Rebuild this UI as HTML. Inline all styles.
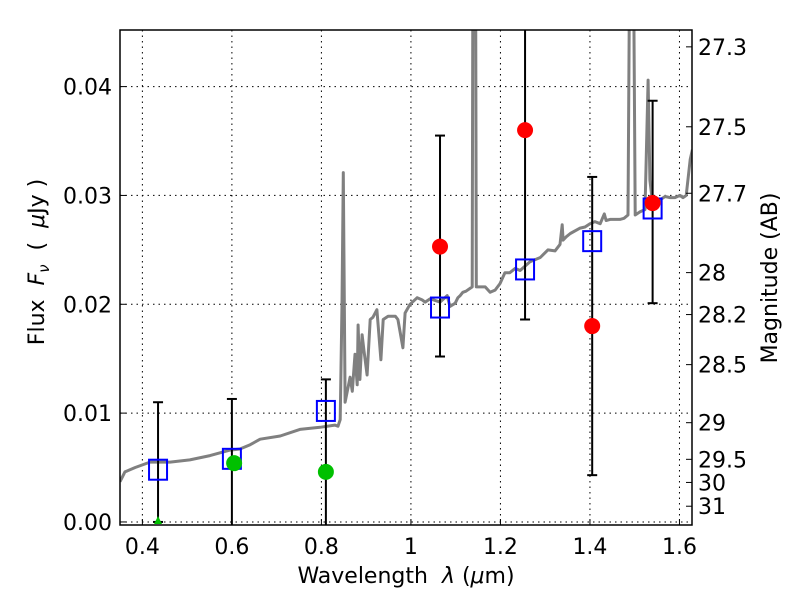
<!DOCTYPE html>
<html><head><meta charset="utf-8"><style>
body{margin:0;background:#fff;}
svg text{font-family:"DejaVu Sans","Liberation Sans",sans-serif;fill:#000;white-space:pre;}
</style></head><body>
<svg id="chart" width="800" height="600" viewBox="0 0 800 600" xmlns="http://www.w3.org/2000/svg">
<defs><clipPath id="clip"><rect x="120" y="30" width="572" height="495"/></clipPath></defs>
<rect width="800" height="600" fill="#fff"/>
<g id="grid"></g>
<g id="spec" clip-path="url(#clip)"></g>
<g id="marks" clip-path="url(#clip)"></g>
<rect x="120" y="30" width="572" height="495" fill="none" stroke="#000" stroke-width="1.5"/>
<g id="axes"></g>
<text x="406" y="583" font-size="22" text-anchor="middle">Wavelength  <tspan font-style="italic">λ</tspan> (<tspan font-style="italic">μ</tspan>m)</text>
<text transform="translate(44,262) rotate(-90)" font-size="22" text-anchor="middle">Flux  <tspan font-style="italic">F</tspan><tspan font-style="italic" font-size="15" dy="5">ν</tspan><tspan dy="-5">  (  </tspan><tspan font-style="italic">μ</tspan>Jy )</text>
<text transform="translate(777,278) rotate(-90)" font-size="22" text-anchor="middle">Magnitude (AB)</text>
</svg>
<script>
const xTicks=[0.4,0.6,0.8,1.0,1.2,1.4,1.6];
const xTickLabels=["0.4","0.6","0.8","1","1.2","1.4","1.6"];
const yTicks=[0,0.01,0.02,0.03,0.04];
const yTickLabels=["0.00","0.01","0.02","0.03","0.04"];
const magTicks=[27.3,27.5,27.7,28,28.2,28.5,29,29.5,30,31];
const magTickLabels=["27.3","27.5","27.7","28","28.2","28.5","29","29.5","30","31"];
const specWl=[0.350,0.361,0.384,0.417,0.462,0.506,0.551,0.596,0.618,0.641,0.663,0.708,0.752,0.797,0.830,0.837,0.842,0.846,0.849,0.853,0.864,0.869,0.875,0.880,0.882,0.886,0.891,0.895,0.902,0.909,0.915,0.924,0.933,0.938,0.949,0.965,0.971,0.982,0.987,0.998,1.014,1.025,1.032,1.043,1.065,1.081,1.087,1.099,1.105,1.110,1.116,1.123,1.137,1.139,1.144,1.146,1.150,1.166,1.177,1.188,1.199,1.210,1.221,1.233,1.244,1.266,1.289,1.306,1.322,1.333,1.338,1.340,1.347,1.356,1.378,1.389,1.400,1.411,1.423,1.432,1.436,1.445,1.456,1.467,1.476,1.485,1.490,1.496,1.501,1.512,1.523,1.530,1.534,1.539,1.546,1.557,1.568,1.579,1.590,1.601,1.608,1.615,1.624,1.629];
const specFlux=[0.0037,0.0046,0.0050,0.0055,0.0055,0.0057,0.0061,0.0066,0.0067,0.0071,0.0076,0.0079,0.0085,0.0087,0.0089,0.0088,0.0094,0.020,0.0321,0.0110,0.0133,0.0120,0.0154,0.0126,0.0181,0.0131,0.0172,0.0158,0.0135,0.0186,0.0188,0.0195,0.0149,0.0186,0.0189,0.0189,0.0186,0.0160,0.0192,0.0200,0.0206,0.0204,0.0202,0.0205,0.0202,0.0208,0.0198,0.0201,0.0206,0.0208,0.0211,0.0212,0.0216,0.06,0.06,0.0216,0.0216,0.0216,0.0211,0.0213,0.0219,0.0229,0.0229,0.0233,0.0231,0.0239,0.0243,0.0250,0.0249,0.0255,0.0273,0.0259,0.0262,0.0265,0.0270,0.0271,0.0274,0.0276,0.0274,0.0283,0.0277,0.0278,0.0278,0.0278,0.0279,0.0282,0.06,0.06,0.0282,0.0285,0.0287,0.0406,0.0314,0.0296,0.0291,0.0296,0.0299,0.0298,0.0298,0.0300,0.0298,0.0300,0.0333,0.0342];
const modelWl=[0.435,0.600,0.810,1.065,1.255,1.405,1.540];
const modelFlux=[0.0048,0.0058,0.0102,0.0197,0.0232,0.0258,0.0288];
const obsWl=[0.435,0.605,0.810,1.065,1.255,1.405,1.540];
const obsFlux=[0.0,0.0054,0.0046,0.0253,0.0360,0.0180,0.0293];
const obsDetected=[false,false,false,true,true,true,true];
const errWl=[0.435,0.600,0.810,1.065,1.255,1.405,1.540];
const errHi=[0.0110,0.0113,0.0131,0.0355,0.0600,0.0317,0.0387];
const errLo=[0.0,-0.002,-0.002,0.0152,0.0186,0.0043,0.0201];

const NS="http://www.w3.org/2000/svg";
const X0=120,X1=692,Y0=525,Y1=30,xmin=0.35,xmax=1.628,ymin=-0.00028,ymax=0.0452;
function sx(v){return X0+(v-xmin)/(xmax-xmin)*(X1-X0);}
function sy(v){return Y0-(v-ymin)/(ymax-ymin)*(Y0-Y1);}
function magToFlux(m){return Math.pow(10,-0.4*(m-23.9));}
function mk(tag,attrs,parent){const e=document.createElementNS(NS,tag);for(const k in attrs)e.setAttribute(k,attrs[k]);parent.appendChild(e);return e;}
const grid=document.getElementById('grid'),axes=document.getElementById('axes'),spec=document.getElementById('spec'),marks=document.getElementById('marks');
xTicks.forEach((t,i)=>{
  const x=sx(t);
  const g=mk('line',{x1:x,x2:x,y1:Y1,y2:Y0,stroke:'#000','stroke-width':1,'stroke-dasharray':'1.5,4'},grid);
  
  
  const tk=mk('line',{x1:x,x2:x,y1:Y0,y2:Y0-6,stroke:'#000','stroke-width':1},axes);
  
  
  const tx=mk('text',{x:x,y:Y0+29,'font-size':22,'text-anchor':'middle'},axes);
  tx.textContent=xTickLabels[i];
  
  
});
yTicks.forEach((t,i)=>{
  const y=sy(t);
  const g=mk('line',{x1:X0,x2:X1,y1:y,y2:y,stroke:'#000','stroke-width':1,'stroke-dasharray':'1.5,4'},grid);
  
  
  const tk=mk('line',{x1:X0,x2:X0+6,y1:y,y2:y,stroke:'#000','stroke-width':1},axes);
  
  
  const tx=mk('text',{x:X0-8,y:y+8,'font-size':22,'text-anchor':'end'},axes);
  tx.textContent=yTickLabels[i];
  
  
});
magTicks.forEach((m,i)=>{
  const y=sy(magToFlux(m));
  const tk=mk('line',{x1:X1-6,x2:X1,y1:y,y2:y,stroke:'#000','stroke-width':1},axes);
  
  
  const tx=mk('text',{x:X1+6,y:y+8,'font-size':22,'text-anchor':'start'},axes);
  tx.textContent=magTickLabels[i];
  
  
});
const pts=specWl.map((w,i)=>sx(w).toFixed(1)+','+sy(specFlux[i]).toFixed(1)).join(' ');
const pl=mk('polyline',{points:pts,fill:'none',stroke:'#808080','stroke-width':3,'stroke-linejoin':'round'},spec);


errWl.forEach((w,i)=>{
  const x=sx(w),yh=sy(errHi[i]),yl=sy(errLo[i]);
  const l=mk('line',{x1:x,x2:x,y1:yh,y2:yl,stroke:'#000','stroke-width':2},marks);
  
  
  const c1=mk('line',{x1:x-5,x2:x+5,y1:yh,y2:yh,stroke:'#000','stroke-width':2},marks);
  
  
  const c2=mk('line',{x1:x-5,x2:x+5,y1:yl,y2:yl,stroke:'#000','stroke-width':2},marks);
  
  
});
modelWl.forEach((w,i)=>{
  const x=sx(w),y=sy(modelFlux[i]);
  const r=mk('rect',{x:x-9,y:y-10,width:18,height:20,fill:'none',stroke:'#0000ff','stroke-width':2},marks);
  
  
});
obsWl.forEach((w,i)=>{
  const x=sx(w),y=sy(obsFlux[i]);
  if(obsFlux[i]<=0){
    const t=mk('polygon',{points:`${x-4},${y+2} ${x+4},${y+2} ${x},${y-6}`,fill:'#00c000'},marks);
    
    
    return;
  }
  const c=mk('circle',{cx:x,cy:y,r:8,fill:obsDetected[i]?'#ff0000':'#00c000'},marks);
  
  
});
</script>
</body></html>
